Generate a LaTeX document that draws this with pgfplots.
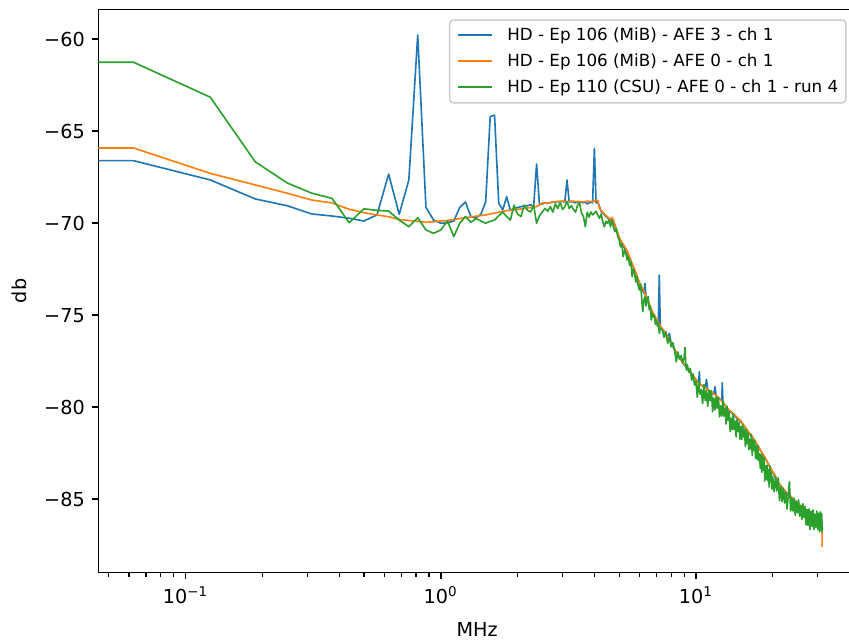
\documentclass[border=0pt]{standalone}
\usepackage{fontspec}
\setmainfont{DejaVu Sans}
\usepackage{pgfplots}
\pgfplotsset{compat=1.18}
\definecolor{mplblue}{HTML}{1F77B4}
\definecolor{mplorange}{HTML}{FF7F0E}
\definecolor{mplgreen}{HTML}{2CA02C}
\begin{document}
\begin{tikzpicture}
\useasboundingbox (0,0) rectangle (441.48pt,333.84pt);
\begin{axis}[
 at={(51.12pt,36.04pt)}, anchor=south west,
 scale only axis, width=394.0pt, height=292.97pt,
 xmode=log, xmin=0.0455, xmax=42.4,
 ymin=-89.0, ymax=-58.37,
 xtick={0.1,1,10},
 xticklabels={10\textsuperscript{−1},10\textsuperscript{0},10\textsuperscript{1}},
 minor xtick={0.05,0.06,0.07,0.08,0.09,0.2,0.3,0.4,0.5,0.6,0.7,0.8,0.9,2,3,4,5,6,7,8,9,20,30,40},
 ytick={-85,-80,-75,-70,-65,-60},
 yticklabels={−85,−80,−75,−70,−65,−60},
 tick align=outside, xtick pos=bottom, ytick pos=left,
 major tick length=3.5pt, minor tick length=2pt,
 major tick style={black,line width=0.8pt},
 minor tick style={black,line width=0.6pt},
 axis line style={black,line width=0.8pt},
 ticklabel style={font=\fontsize{10}{12}\selectfont},
 xlabel={MHz}, ylabel={db},
 label style={font=\fontsize{10}{12}\selectfont},
 xlabel style={at={(axis description cs:0.5,-0.1017)}, anchor=center},
 ylabel style={at={(axis description cs:-0.1047,0.5)}, anchor=center},
 legend style={at={(axis description cs:0.98773,0.98226)}, anchor=north east,
   draw=black!20, line width=0.8pt, rounded corners=2pt, fill=white,
   fill opacity=0.8, text opacity=1, font=\fontsize{8.7}{10}\selectfont,
   inner xsep=4pt, inner ysep=3.9pt, row sep=5.32pt, column sep=7.3pt,
   nodes={inner sep=0pt, text height=6.5pt, text depth=1.7pt}},
 legend cell align=left,
 legend image code/.code={\draw[#1, draw opacity=1, line width=1pt] (0pt,0.4pt) -- (17.7pt,0.4pt);},
 every axis plot/.append style={line width=0.85pt, line join=round},
]
\addplot[color=mplblue] coordinates {
(0.04,-66.6) (0.0625,-66.6) (0.125,-67.65) (0.1875,-68.68) (0.25,-69.05) (0.3125,-69.5)
(0.375,-69.61) (0.4375,-69.73) (0.5,-69.88) (0.5625,-69.55) (0.625,-67.33) (0.6875,-69.52)
(0.75,-67.65) (0.8125,-59.77) (0.875,-69.14) (0.9375,-69.83) (1.0,-70.0) (1.0625,-69.98)
(1.125,-69.88) (1.1875,-69.14) (1.25,-68.85) (1.3125,-69.64) (1.375,-69.73) (1.4375,-69.5)
(1.5,-68.85) (1.5625,-64.21) (1.625,-64.12) (1.6875,-68.9) (1.75,-69.28) (1.8125,-68.56)
(1.875,-69.3) (1.9375,-69.2) (2.0,-69.15) (2.0625,-69.1) (2.125,-69.05) (2.1875,-69.05)
(2.25,-69.0) (2.3125,-69.1) (2.375,-66.78) (2.4375,-69.0) (2.5,-68.95) (2.5625,-68.9)
(2.625,-68.92) (2.6875,-68.88) (2.75,-68.85) (2.8125,-68.85) (2.875,-68.82) (2.9375,-68.85)
(3.0,-68.8) (3.0625,-68.85) (3.125,-67.65) (3.1875,-68.85) (3.25,-68.82) (3.3125,-68.85)
(3.375,-68.9) (3.4375,-68.85) (3.5,-68.88) (3.5625,-68.85) (3.625,-68.9) (3.6875,-68.85)
(3.75,-68.95) (3.8125,-68.9) (3.875,-68.85) (3.9375,-68.9) (4.0,-65.93) (4.0625,-68.9)
(4.125,-68.85) (4.25,-69.35) (4.375,-69.55) (4.5,-69.7) (4.625,-69.85) (4.75,-69.9)
(4.875,-70.35) (5.0,-70.8) (5.25,-71.35) (5.5,-71.9) (5.75,-72.55) (6.0,-73.25)
(6.25,-73.8) (6.3125,-73.27) (6.375,-74.0) (6.5,-74.3) (6.75,-74.85) (7.0,-75.25)
(7.125,-75.4) (7.1875,-72.82) (7.25,-75.6) (7.5,-75.9) (7.75,-76.2) (7.875,-75.99)
(8.0,-76.55) (8.5,-77.2) (9.0,-77.7) (9.5,-78.1) (10.0,-78.5) (10.25,-78.65)
(10.3125,-78.07) (10.375,-78.75) (10.875,-78.95) (11.0,-78.49) (11.125,-79.05) (11.75,-79.3)
(11.875,-78.89) (12.0,-79.4) (12.625,-79.65) (12.6875,-78.67) (12.75,-79.7) (13.25,-80.05)
(14,-80.4) (15,-80.8) (16,-81.35) (17,-81.85) (18,-82.4) (19,-82.95) (20,-83.55)
(21,-84.1) (22,-84.45) (23,-84.8) (24,-85.05) (25,-85.25) (26,-85.45) (27,-85.6)
(28,-85.8) (29,-85.95) (30,-86.1) (31.1875,-86.25) (31.25,-86.9)
};
\addlegendentry{HD - Ep 106 (MiB) - AFE 3 - ch 1}
\addplot[color=mplorange] coordinates {
(0.04,-65.91) (0.0625,-65.91) (0.125,-67.29) (0.1875,-67.92) (0.25,-68.37) (0.3125,-68.74)
(0.375,-68.9) (0.4375,-69.24) (0.5,-69.43) (0.5625,-69.55) (0.625,-69.65) (0.6875,-69.8)
(0.75,-69.85) (0.8125,-69.9) (0.875,-69.95) (0.9375,-69.92) (1.0,-69.88) (1.0625,-69.85)
(1.125,-69.8) (1.25,-69.7) (1.375,-69.62) (1.5,-69.55) (1.625,-69.45) (1.75,-69.35)
(1.875,-69.3) (2.0,-69.25) (2.125,-69.2) (2.25,-69.15) (2.375,-69.1) (2.5,-68.9)
(2.625,-68.92) (2.75,-68.85) (2.875,-68.82) (3.0,-68.8) (3.125,-68.85) (3.25,-68.8)
(3.375,-68.82) (3.5,-68.82) (3.625,-68.85) (3.75,-68.8) (3.875,-68.82) (4.0,-68.8)
(4.0625,-68.72) (4.125,-68.8) (4.1875,-69.2) (4.25,-69.3) (4.375,-69.5) (4.5,-69.65)
(4.625,-69.8) (4.6875,-69.7) (4.75,-69.85) (4.875,-70.3) (5.0,-70.75) (5.125,-71.05)
(5.25,-71.25) (5.375,-71.5) (5.5,-71.85) (5.625,-72.2) (5.75,-72.5) (6.0,-73.2)
(6.25,-73.7) (6.5,-74.25) (6.75,-74.8) (7.0,-75.2) (7.25,-75.6) (7.5,-75.85)
(7.75,-76.15) (8.0,-76.5) (8.25,-76.85) (8.5,-77.15) (8.75,-77.45) (9.0,-77.65)
(9.25,-77.85) (9.5,-78.05) (9.75,-78.3) (10.0,-78.5) (10.375,-78.75) (11.0,-79.0)
(11.75,-79.25) (12.5,-79.6) (13.25,-80.05) (14.0,-80.35) (15.0,-80.75) (16.0,-81.3)
(16.5,-81.55) (17.0,-81.8) (17.75,-82.25) (18.5,-82.65) (19.5,-83.25) (20.5,-83.75)
(21.5,-84.3) (22.5,-84.6) (23.5,-84.85) (24.5,-85.1) (25.5,-85.3) (26.5,-85.5)
(27.5,-85.65) (28.5,-85.8) (29.5,-85.95) (30.5,-86.1) (31.1875,-86.2) (31.25,-87.6)
};
\addlegendentry{HD - Ep 106 (MiB) - AFE 0 - ch 1}
\addplot[color=mplgreen] coordinates {
(0.04,-61.25) (0.0625,-61.25) (0.125,-63.15) (0.1875,-66.66) (0.25,-67.81) (0.3125,-68.37)
(0.375,-68.65) (0.4375,-69.97) (0.5,-69.22) (0.5625,-69.3) (0.625,-69.34) (0.6875,-69.83)
(0.75,-70.19) (0.8125,-69.7) (0.875,-70.37) (0.9375,-70.55) (1.0,-70.37) (1.0625,-69.88)
(1.125,-70.73) (1.1875,-70.0) (1.25,-69.64) (1.3125,-69.95) (1.375,-69.75) (1.4375,-69.88)
(1.5,-70.0) (1.5625,-69.9) (1.625,-69.83) (1.6875,-69.6) (1.75,-69.39) (1.8125,-69.64)
(1.875,-69.83) (1.9375,-69.02) (2.0,-69.5) (2.0625,-69.64) (2.125,-69.02) (2.1875,-69.3)
(2.25,-69.39) (2.3125,-69.02) (2.375,-70.0) (2.4375,-69.6) (2.5,-69.39) (2.5625,-69.2)
(2.625,-69.35) (2.6875,-69.1) (2.75,-69.4) (2.8125,-68.95) (2.875,-69.2) (2.9375,-68.88)
(3.0,-69.25) (3.0625,-69.1) (3.125,-68.81) (3.1875,-69.2) (3.25,-69.05) (3.3125,-69.25)
(3.375,-69.4) (3.4375,-69.02) (3.5,-68.92) (3.5625,-69.45) (3.625,-69.64) (3.6875,-70.19)
(3.75,-69.4) (3.8125,-69.67) (3.875,-69.39) (3.9375,-69.55) (4.0,-69.46) (4.0625,-69.35)
(4.125,-69.55) (4.1875,-69.73) (4.25,-69.5) (4.3125,-69.9) (4.375,-70.19) (4.4375,-69.9)
(4.5,-70.0) (4.5625,-69.85) (4.625,-70.19) (4.6875,-69.83) (4.75,-70.19) (4.8125,-70.46)
(4.875,-70.3) (4.9375,-70.73) (5.0,-70.9) (5.0625,-71.28) (5.125,-71.1) (5.1875,-71.82)
(5.25,-71.5) (5.3125,-71.6) (5.375,-72.0) (5.4375,-71.8) (5.5,-72.3) (5.5625,-72.1)
(5.625,-72.9) (5.6875,-72.5) (5.75,-72.7) (5.8125,-73.2) (5.875,-72.9) (5.9375,-73.4)
(6.0,-73.63) (6.0625,-73.3) (6.125,-74.0) (6.1875,-74.81) (6.25,-74.2) (6.3125,-74.0)
(6.375,-74.5) (6.4375,-74.1) (6.5,-74.0) (6.5625,-74.7) (6.625,-74.5) (6.6875,-75.26)
(6.75,-74.9) (6.8125,-75.1) (6.875,-75.0) (6.9375,-75.5) (7.0,-75.3) (7.0625,-75.6)
(7.125,-75.4) (7.1875,-75.99) (7.25,-75.7) (7.375,-75.8) (7.5,-76.2) (7.625,-75.9)
(7.75,-76.53) (7.875,-76.2) (8.0,-76.72) (8.125,-76.5) (8.25,-76.9) (8.375,-77.53)
(8.5,-77.0) (8.625,-77.4) (8.75,-77.2) (8.875,-77.6) (9.0,-77.3) (9.0625,-76.75)
(9.125,-77.7) (9.1875,-77.98) (9.25,-77.7) (9.375,-78.1) (9.5,-77.9) (9.625,-78.53)
(9.75,-78.2) (9.875,-78.8) (10.0,-78.6) (10.125,-79.46) (10.25,-78.62) (10.375,-79.29)
(10.5,-79.05) (10.625,-79.81) (10.75,-78.77) (10.875,-79.64) (11.0,-79.1) (11.125,-79.95)
(11.25,-79.1) (11.375,-79.65) (11.5,-79.1) (11.625,-80.25) (11.75,-79.5) (11.875,-80.15)
(12.0,-79.45) (12.125,-80.06) (12.25,-79.46) (12.375,-80.52) (12.5,-79.93) (12.625,-80.48)
(12.75,-79.64) (12.875,-80.49) (13.0,-80.05) (13.125,-80.92) (13.25,-79.95) (13.375,-80.72)
(13.5,-80.25) (13.625,-81.32) (13.75,-80.6) (13.875,-81.22) (14.0,-80.35) (14.125,-81.21)
(14.25,-80.76) (14.375,-81.62) (14.5,-80.67) (14.625,-81.33) (14.75,-80.84) (14.875,-81.74)
(15.0,-81.05) (15.125,-81.76) (15.25,-80.96) (15.375,-81.62) (15.5,-81.22) (15.625,-82.13)
(15.75,-81.24) (15.875,-81.99) (16.0,-81.4) (16.125,-82.31) (16.25,-81.76) (16.375,-82.27)
(16.5,-81.47) (16.625,-82.63) (16.75,-81.79) (16.875,-82.34) (17.0,-81.8) (17.125,-82.78)
(17.25,-82.16) (17.375,-82.84) (17.5,-82.08) (17.625,-82.91) (17.75,-82.54) (17.875,-83.32)
(18.0,-82.55) (18.125,-83.54) (18.25,-82.64) (18.375,-83.43) (18.5,-82.73) (18.625,-84.02)
(18.75,-83.21) (18.875,-83.91) (19.0,-83.15) (19.125,-84.0) (19.25,-83.4) (19.375,-84.35)
(19.5,-83.2) (19.625,-84.05) (19.75,-83.55) (19.875,-84.45) (20.0,-83.8) (20.25,-84.59)
(20.5,-83.78) (20.75,-84.56) (21.0,-83.85) (21.25,-85.08) (21.5,-84.3) (21.75,-85.13)
(22.0,-84.4) (22.25,-85.21) (22.5,-84.63) (22.75,-85.54) (23.0,-84.85) (23.25,-84.05)
(23.5,-85.65) (23.75,-84.95) (24.0,-85.65) (24.25,-84.94) (24.5,-85.88) (24.75,-85.11)
(25.0,-85.75) (25.25,-85.04) (25.5,-85.93) (25.75,-85.36) (26.0,-86.1) (26.25,-85.25)
(26.5,-86.0) (26.75,-85.4) (27.0,-86.4) (27.25,-85.56) (27.5,-86.43) (27.75,-85.54)
(28.0,-86.65) (28.25,-85.66) (28.5,-86.48) (28.75,-85.59) (29.0,-86.65) (29.25,-85.81)
(29.5,-86.53) (29.75,-85.64) (30.0,-86.65) (30.25,-85.76) (30.5,-86.78) (30.75,-85.69)
(31.0,-86.7) (31.125,-85.8) (31.25,-86.8)
};
\addlegendentry{HD - Ep 110 (CSU) - AFE 0 - ch 1 - run 4}
\end{axis}
\end{tikzpicture}
\end{document}
